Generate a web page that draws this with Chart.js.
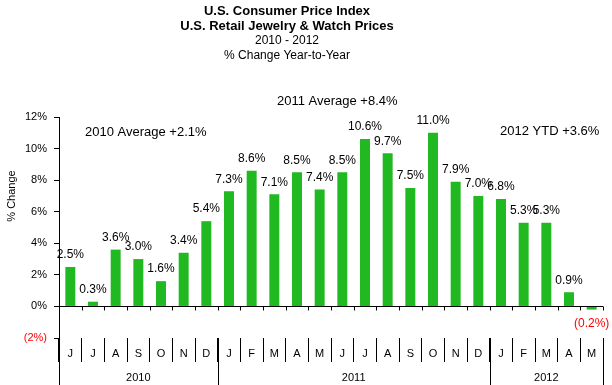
<!DOCTYPE html>
<html>
<head>
<meta charset="utf-8">
<script src="https://cdn.jsdelivr.net/npm/chart.js@4/dist/chart.umd.min.js"></script>
<style>
  html, body { margin: 0; padding: 0; background: #fff; }
  #wrap { width: 612px; height: 385px; }
</style>
</head>
<body>
<div id="wrap"><canvas id="c" width="612" height="385"></canvas></div>
<script>
// ---- data ----
const months = ['J','J','A','S','O','N','D','J','F','M','A','M','J','J','A','S','O','N','D','J','F','M','A','M'];
const years = ['2010', '2011', '2012'];
const yearStarts = [0, 7, 19];           // first category index of each year
const changePct = [2.5, 0.3, 3.6, 3.0, 1.6, 3.4, 5.4,
                   7.3, 8.6, 7.1, 8.5, 7.4, 8.5, 10.6, 9.7, 7.5, 11.0, 7.9, 7.0,
                   6.8, 5.3, 5.3, 0.9, -0.2];
const titleLines = ['U.S. Consumer Price Index', 'U.S. Retail Jewelry & Watch Prices', '2010 - 2012', '% Change Year-to-Year'];
const notes = ['2010 Average +2.1%', '2011 Average +8.4%', '2012 YTD +3.6%'];
const yTicks = { min: -2, max: 12, step: 2 };

const FONT = "'Liberation Sans', Arial, sans-serif";
const GREEN = '#21b921';
const RED = '#ff0000';

const fmtPct = v => v < 0 ? '(' + Math.abs(v).toFixed(1) + '%)' : v.toFixed(1) + '%';

const decor = {
  id: 'decor',
  afterDraw(chart) {
    const ctx = chart.ctx;
    const xs = chart.scales.x, ys = chart.scales.y;
    const ca = chart.chartArea;
    const n = months.length;
    const boundary = i => {
      if (i <= 0) return ca.left;
      if (i >= n) return ca.right;
      return (xs.getPixelForValue(i - 1) + xs.getPixelForValue(i)) / 2;
    };
    ctx.save();
    // zero line with small ticks
    const y0 = Math.round(ys.getPixelForValue(0)) + 0.5;
    ctx.strokeStyle = '#000';
    ctx.lineWidth = 1;
    ctx.beginPath();
    ctx.moveTo(ca.left, y0);
    ctx.lineTo(ca.right, y0);
    for (let i = 1; i <= n; i++) {
      const bx = Math.round(boundary(i)) + 0.5;
      ctx.moveTo(bx, y0);
      ctx.lineTo(bx, y0 + 4);
    }
    ctx.stroke();
    // year separators
    const bottom = chart.height;
    ctx.beginPath();
    const bounds = yearStarts.concat([n]);
    bounds.forEach(b => {
      const bx = Math.round(boundary(b)) + 0.5;
      ctx.moveTo(bx, ca.bottom);
      ctx.lineTo(bx, bottom);
    });
    ctx.stroke();
    // year labels
    ctx.fillStyle = '#000';
    ctx.font = '11px ' + FONT;
    ctx.textAlign = 'center';
    ctx.textBaseline = 'middle';
    years.forEach((yr, k) => {
      const a = boundary(bounds[k]), b = boundary(bounds[k + 1]);
      ctx.fillText(yr, (a + b) / 2, ca.bottom + 40);
    });
    // y axis title
    ctx.save();
    ctx.translate(12, 196);
    ctx.rotate(-Math.PI / 2);
    ctx.font = '11px ' + FONT;
    ctx.fillText('% Change', 0, 0);
    ctx.restore();
    // titles
    ctx.textAlign = 'center';
    ctx.font = 'bold 13px ' + FONT;
    ctx.fillText(titleLines[0], 287, 11);
    ctx.fillText(titleLines[1], 287, 26);
    ctx.font = '12px ' + FONT;
    ctx.fillText(titleLines[2], 287, 41);
    ctx.fillText(titleLines[3], 287, 56);
    // notes
    ctx.font = '13px ' + FONT;
    ctx.textAlign = 'left';
    ctx.fillText(notes[0], 85, 132);
    ctx.fillText(notes[1], 277, 101);
    ctx.fillText(notes[2], 500, 131);
    // data labels
    ctx.font = '12px ' + FONT;
    ctx.textAlign = 'center';
    const meta = chart.getDatasetMeta(0);
    meta.data.forEach((bar, i) => {
      const v = changePct[i];
      if (v < 0) {
        ctx.fillStyle = RED;
        ctx.fillText(fmtPct(v), bar.x, bar.y + 14);
      } else {
        ctx.fillStyle = '#000';
        ctx.fillText(fmtPct(v), bar.x, bar.y - 12);
      }
    });
    ctx.restore();
  }
};

new Chart(document.getElementById('c'), {
  type: 'bar',
  data: {
    labels: months,
    datasets: [{
      data: changePct,
      backgroundColor: GREEN,
      borderWidth: 0,
      barPercentage: 0.44,
      categoryPercentage: 1.0
    }]
  },
  options: {
    responsive: false,
    devicePixelRatio: 1,
    animation: false,
    layout: { padding: { top: 117, right: 9, bottom: 0, left: 0 } },
    plugins: { legend: { display: false }, tooltip: { enabled: false }, title: { display: false } },
    scales: {
      x: {
        type: 'category',
        grid: { display: true, drawOnChartArea: false, offset: true, tickLength: 24, color: '#000', lineWidth: 1 },
        border: { display: false },
        ticks: { color: '#000', font: { family: FONT, size: 11 }, padding: -15, autoSkip: false, maxRotation: 0, minRotation: 0 },
        afterFit: s => { s.height = 47; }
      },
      y: {
        min: yTicks.min,
        max: yTicks.max,
        grid: { display: true, drawOnChartArea: false, tickLength: 5, color: '#000', lineWidth: 1 },
        border: { display: true, color: '#000', width: 1 },
        ticks: {
          stepSize: yTicks.step,
          padding: 7,
          font: { family: FONT, size: 11 },
          color: c => (c.tick && c.tick.value < 0) ? RED : '#000',
          callback: v => v < 0 ? '(' + Math.abs(v) + '%)' : v + '%'
        },
        afterFit: s => { s.width = 59; }
      }
    }
  },
  plugins: [decor]
});
</script>
</body>
</html>
